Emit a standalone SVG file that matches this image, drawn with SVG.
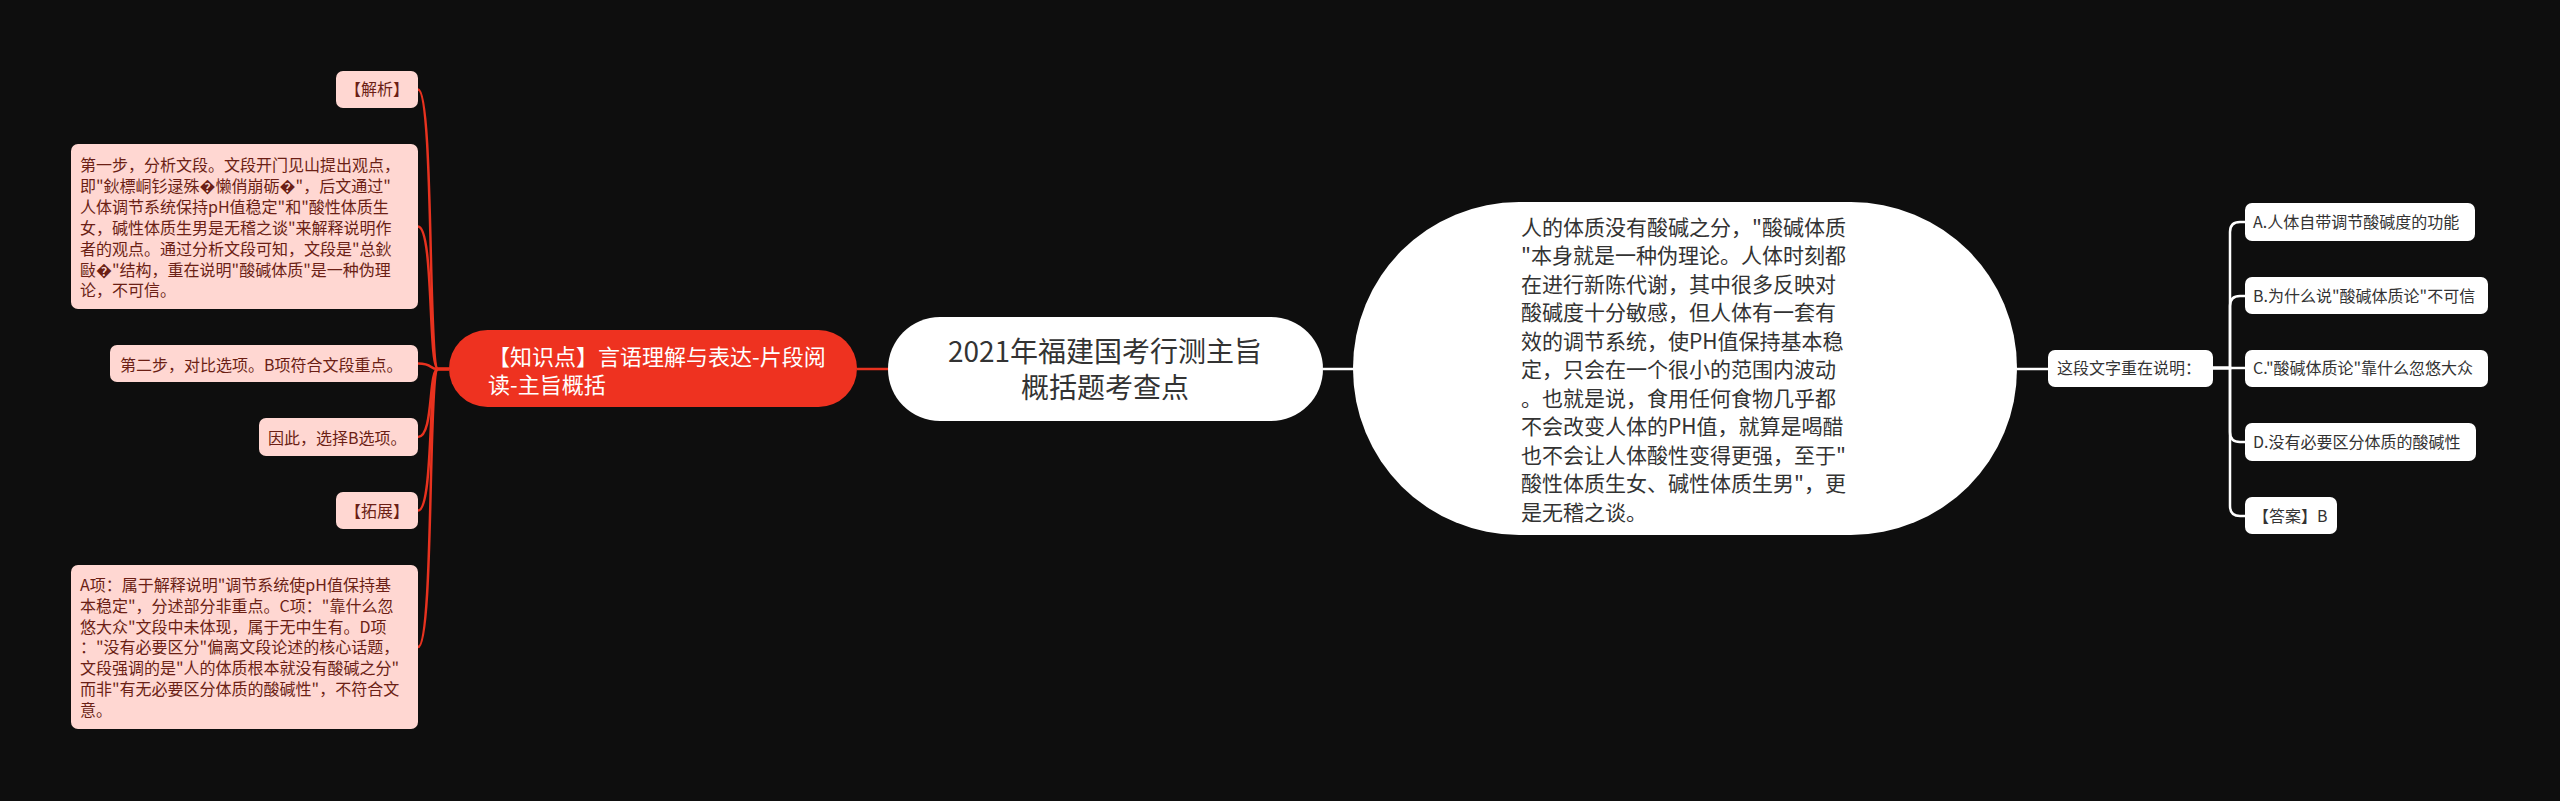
<svg xmlns="http://www.w3.org/2000/svg" width="2560" height="801" viewBox="0 0 2560 801">
<style>
text{font-family:"Noto Sans CJK SC","Noto Sans",sans-serif;}
.pink rect{fill:#ffd7d2;}
.pink text{fill:#6b1f15;font-size:16px;}
.wbox rect{fill:#ffffff;}
.wbox text{fill:#333333;font-size:16px;}
.red{fill:none;stroke:#e8321f;stroke-width:2.5;}
.wht{fill:none;stroke:#ffffff;stroke-width:2.5;}
</style>
<rect x="0" y="0" width="2560" height="801" fill="#0e0e0e"/>
<g id="connectors">
<path class="red" d="M449 369 H438 C428 369 434 89.5 418 89.5"/>
<path class="red" d="M449 369 H438 C428 369 434 226.5 418 226.5"/>
<path class="red" d="M449 369 H438 C428 369 434 363.5 418 363.5"/>
<path class="red" d="M449 369 H438 C428 369 434 437 418 437"/>
<path class="red" d="M449 369 H438 C428 369 434 510.5 418 510.5"/>
<path class="red" d="M449 369 H438 C428 369 434 647 418 647"/>
<path class="red" d="M857 369 H888"/>
<path class="wht" d="M1323 369 H1355"/>
<path class="wht" d="M2017 369 H2048"/>
<path class="wht" d="M2213 368 H2230 V232 Q2230 222 2240 222 H2245"/>
<path class="wht" d="M2213 368 H2230 V306 Q2230 296 2240 296 H2245"/>
<path class="wht" d="M2213 368 H2245"/>
<path class="wht" d="M2213 368 H2230 V432 Q2230 442 2240 442 H2245"/>
<path class="wht" d="M2213 368 H2230 V506 Q2230 516 2240 516 H2245"/>
</g>
<g id="root">
<rect x="888" y="317" width="435" height="104" rx="52" fill="#ffffff"/>
<text x="1105" y="362" font-size="28" fill="#333333" text-anchor="middle">2021年福建国考行测主旨</text>
<text x="1105" y="398" font-size="28" fill="#333333" text-anchor="middle">概括题考查点</text>
</g>
<g id="knowledge">
<rect x="449" y="330" width="408" height="77" rx="38.5" fill="#ee3220"/>
<text x="488" y="365" font-size="22" fill="#ffffff">【知识点】言语理解与表达-片段阅</text>
<text x="488" y="393" font-size="22" fill="#ffffff">读-主旨概括</text>
</g>
<g id="jiexi" class="pink">
<rect x="336" y="71" width="82" height="37" rx="7"/>
<text x="345" y="95">【解析】</text>
</g>
<g id="step1" class="pink">
<rect x="71" y="144" width="347" height="165" rx="7"/>
<text x="80" y="171">第一步，分析文段。文段开门见山提出观点，</text>
<text x="80" y="192">即"鈥標峒钐逯殊�懒俏崩砺�"，后文通过"</text>
<text x="80" y="213">人体调节系统保持pH值稳定"和"酸性体质生</text>
<text x="80" y="234">女，碱性体质生男是无稽之谈"来解释说明作</text>
<text x="80" y="255">者的观点。通过分析文段可知，文段是"总鈥</text>
<text x="80" y="276">敺�"结构，重在说明"酸碱体质"是一种伪理</text>
<text x="80" y="296">论，不可信。</text>
</g>
<g id="step2" class="pink">
<rect x="110" y="345" width="308" height="37" rx="7"/>
<text x="120" y="371">第二步，对比选项。B项符合文段重点。</text>
</g>
<g id="choose" class="pink">
<rect x="259" y="418" width="159" height="38" rx="7"/>
<text x="268" y="444">因此，选择B选项。</text>
</g>
<g id="tuozhan" class="pink">
<rect x="336" y="492" width="82" height="37" rx="7"/>
<text x="345" y="516.5">【拓展】</text>
</g>
<g id="extend" class="pink">
<rect x="71" y="565" width="347" height="164" rx="7"/>
<text x="80" y="591">A项：属于解释说明"调节系统使pH值保持基</text>
<text x="80" y="612">本稳定"，分述部分非重点。C项："靠什么忽</text>
<text x="80" y="633">悠大众"文段中未体现，属于无中生有。D项</text>
<text x="80" y="653">："没有必要区分"偏离文段论述的核心话题，</text>
<text x="80" y="674">文段强调的是"人的体质根本就没有酸碱之分"</text>
<text x="80" y="695">而非"有无必要区分体质的酸碱性"，不符合文</text>
<text x="80" y="716">意。</text>
</g>
<g id="passage">
<rect x="1353" y="202" width="664" height="333" rx="166" fill="#ffffff"/>
<g font-size="21" fill="#333333">
<text x="1521" y="234.5">人的体质没有酸碱之分，"酸碱体质</text>
<text x="1521" y="263">"本身就是一种伪理论。人体时刻都</text>
<text x="1521" y="291.5">在进行新陈代谢，其中很多反映对</text>
<text x="1521" y="320">酸碱度十分敏感，但人体有一套有</text>
<text x="1521" y="348.5">效的调节系统，使PH值保持基本稳</text>
<text x="1521" y="377">定，只会在一个很小的范围内波动</text>
<text x="1521" y="405.5">。也就是说，食用任何食物几乎都</text>
<text x="1521" y="434">不会改变人体的PH值，就算是喝醋</text>
<text x="1521" y="462.5">也不会让人体酸性变得更强，至于"</text>
<text x="1521" y="491">酸性体质生女、碱性体质生男"，更</text>
<text x="1521" y="519.5">是无稽之谈。</text>
</g>
</g>
<g id="question" class="wbox">
<rect x="2048" y="350" width="165" height="37" rx="7"/>
<text x="2057" y="374">这段文字重在说明：</text>
</g>
<g id="optA" class="wbox">
<rect x="2245" y="203" width="230" height="38" rx="7"/>
<text x="2253" y="228">A.人体自带调节酸碱度的功能</text>
</g>
<g id="optB" class="wbox">
<rect x="2245" y="277" width="243" height="37" rx="7"/>
<text x="2253" y="302">B.为什么说"酸碱体质论"不可信</text>
</g>
<g id="optC" class="wbox">
<rect x="2245" y="350" width="243" height="37" rx="7"/>
<text x="2253" y="374">C."酸碱体质论"靠什么忽悠大众</text>
</g>
<g id="optD" class="wbox">
<rect x="2245" y="423" width="231" height="38" rx="7"/>
<text x="2253" y="448">D.没有必要区分体质的酸碱性</text>
</g>
<g id="answer" class="wbox">
<rect x="2245" y="497" width="92" height="37" rx="7"/>
<text x="2253" y="522">【答案】B</text>
</g>
</svg>
